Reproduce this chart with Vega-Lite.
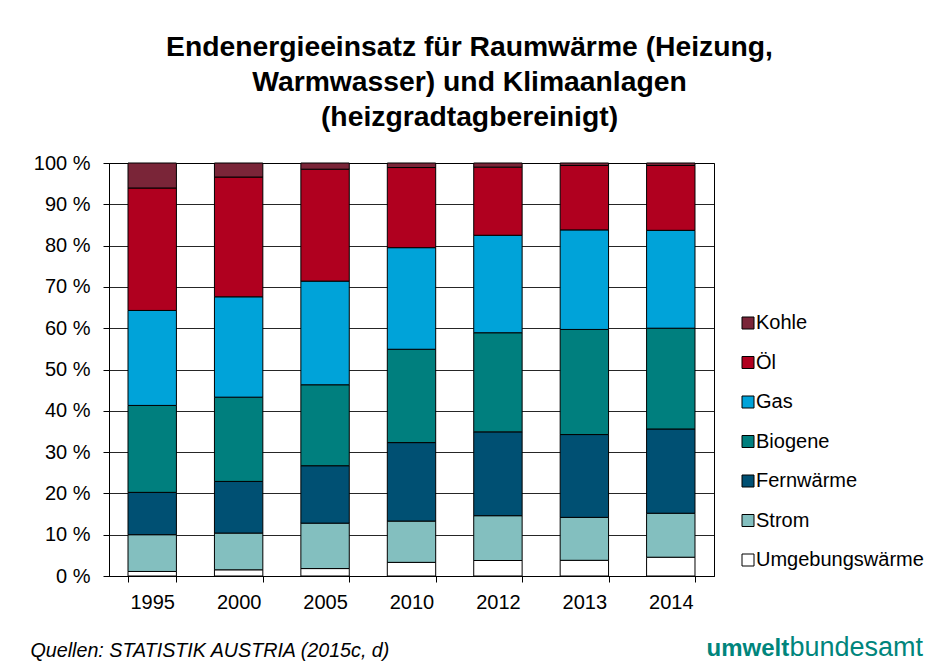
{
  "$schema": "https://vega.github.io/schema/vega-lite/v6.json",
  "width": 605,
  "height": 413,
  "autosize": {"type": "none"},
  "padding": {"left": 109, "top": 163, "right": 227, "bottom": 90},
  "background": "white",
  "title": {
    "text": ["Endenergieeinsatz für Raumwärme (Heizung,", "Warmwasser) und Klimaanlagen", "(heizgradtagbereinigt)"],
    "font": "Liberation Sans",
    "fontSize": 28.3,
    "fontWeight": "bold",
    "lineHeight": 35,
    "anchor": "middle",
    "dx": 58,
    "offset": 21,
    "color": "#000000"
  },
  "data": {
    "values": [
      {"jahr": "1995", "traeger": "Umgebungswärme", "anteil": 1.1},
      {"jahr": "1995", "traeger": "Strom", "anteil": 8.9},
      {"jahr": "1995", "traeger": "Fernwärme", "anteil": 10.25},
      {"jahr": "1995", "traeger": "Biogene", "anteil": 21.05},
      {"jahr": "1995", "traeger": "Gas", "anteil": 23.0},
      {"jahr": "1995", "traeger": "Öl", "anteil": 29.65},
      {"jahr": "1995", "traeger": "Kohle", "anteil": 6.05},
      {"jahr": "2000", "traeger": "Umgebungswärme", "anteil": 1.5},
      {"jahr": "2000", "traeger": "Strom", "anteil": 8.9},
      {"jahr": "2000", "traeger": "Fernwärme", "anteil": 12.5},
      {"jahr": "2000", "traeger": "Biogene", "anteil": 20.4},
      {"jahr": "2000", "traeger": "Gas", "anteil": 24.3},
      {"jahr": "2000", "traeger": "Öl", "anteil": 29.0},
      {"jahr": "2000", "traeger": "Kohle", "anteil": 3.4},
      {"jahr": "2005", "traeger": "Umgebungswärme", "anteil": 1.8},
      {"jahr": "2005", "traeger": "Strom", "anteil": 11.0},
      {"jahr": "2005", "traeger": "Fernwärme", "anteil": 13.9},
      {"jahr": "2005", "traeger": "Biogene", "anteil": 19.6},
      {"jahr": "2005", "traeger": "Gas", "anteil": 25.1},
      {"jahr": "2005", "traeger": "Öl", "anteil": 27.1},
      {"jahr": "2005", "traeger": "Kohle", "anteil": 1.5},
      {"jahr": "2010", "traeger": "Umgebungswärme", "anteil": 3.3},
      {"jahr": "2010", "traeger": "Strom", "anteil": 10.0},
      {"jahr": "2010", "traeger": "Fernwärme", "anteil": 19.0},
      {"jahr": "2010", "traeger": "Biogene", "anteil": 22.6},
      {"jahr": "2010", "traeger": "Gas", "anteil": 24.6},
      {"jahr": "2010", "traeger": "Öl", "anteil": 19.4},
      {"jahr": "2010", "traeger": "Kohle", "anteil": 1.1},
      {"jahr": "2012", "traeger": "Umgebungswärme", "anteil": 3.75},
      {"jahr": "2012", "traeger": "Strom", "anteil": 10.85},
      {"jahr": "2012", "traeger": "Fernwärme", "anteil": 20.3},
      {"jahr": "2012", "traeger": "Biogene", "anteil": 24.0},
      {"jahr": "2012", "traeger": "Gas", "anteil": 23.6},
      {"jahr": "2012", "traeger": "Öl", "anteil": 16.5},
      {"jahr": "2012", "traeger": "Kohle", "anteil": 1.0},
      {"jahr": "2013", "traeger": "Umgebungswärme", "anteil": 3.8},
      {"jahr": "2013", "traeger": "Strom", "anteil": 10.4},
      {"jahr": "2013", "traeger": "Fernwärme", "anteil": 20.05},
      {"jahr": "2013", "traeger": "Biogene", "anteil": 25.45},
      {"jahr": "2013", "traeger": "Gas", "anteil": 24.1},
      {"jahr": "2013", "traeger": "Öl", "anteil": 15.6},
      {"jahr": "2013", "traeger": "Kohle", "anteil": 0.6},
      {"jahr": "2014", "traeger": "Umgebungswärme", "anteil": 4.55},
      {"jahr": "2014", "traeger": "Strom", "anteil": 10.65},
      {"jahr": "2014", "traeger": "Fernwärme", "anteil": 20.4},
      {"jahr": "2014", "traeger": "Biogene", "anteil": 24.4},
      {"jahr": "2014", "traeger": "Gas", "anteil": 23.7},
      {"jahr": "2014", "traeger": "Öl", "anteil": 15.7},
      {"jahr": "2014", "traeger": "Kohle", "anteil": 0.6}
    ]
  },
  "transform": [
    {"calculate": "indexof(['Kohle','Öl','Gas','Biogene','Fernwärme','Strom','Umgebungswärme'], datum.traeger)", "as": "ord"}
  ],
  "layer": [
    {
      "mark": {"type": "bar", "stroke": "#000000", "strokeWidth": 1},
      "encoding": {
        "x": {
          "field": "jahr",
          "type": "nominal",
          "sort": null,
          "scale": {"paddingInner": 0.44, "paddingOuter": 0.22},
          "axis": {
            "title": "Quellen: STATISTIK AUSTRIA (2015c, d)",
            "titleFont": "Liberation Sans",
            "titleFontSize": 19.7,
            "titleFontStyle": "italic",
            "titleFontWeight": "normal",
            "titleColor": "#000000",
            "titleX": -79,
            "titleY": 80,
            "titleAlign": "left",
            "titleBaseline": "alphabetic",
            "labelAngle": 0,
            "labelFont": "Liberation Sans",
            "labelFontSize": 20,
            "labelColor": "#000000",
            "labelPadding": 10,
            "tickBand": "extent",
            "tickColor": "#000000",
            "tickSize": 6,
            "domainColor": "#000000",
            "grid": false
          }
        },
        "y": {
          "field": "anteil",
          "type": "quantitative",
          "stack": "normalize",
          "scale": {"domain": [0, 1]},
          "axis": {
            "values": [0, 0.1, 0.2, 0.3, 0.4, 0.5, 0.6, 0.7, 0.8, 0.9, 1],
            "labelExpr": "round(datum.value * 100) + ' %'",
            "labelFont": "Liberation Sans",
            "labelFontSize": 20,
            "labelColor": "#000000",
            "labelPadding": 13,
            "tickSize": 6,
            "tickColor": "#000000",
            "domainColor": "#000000",
            "grid": true,
            "gridColor": "#000000",
            "gridOpacity": 0.85,
            "title": "umwelt",
            "titleAngle": 0,
            "titleX": 597,
            "titleY": 492,
            "titleAlign": "left",
            "titleBaseline": "alphabetic",
            "titleFont": "Liberation Sans",
            "titleFontSize": 24,
            "titleFontWeight": "bold",
            "titleColor": "#00857C"
          }
        },
        "color": {
          "field": "traeger",
          "type": "nominal",
          "scale": {
            "domain": ["Kohle", "Öl", "Gas", "Biogene", "Fernwärme", "Strom", "Umgebungswärme"],
            "range": ["#7A2538", "#B0001F", "#00A3D9", "#007F7E", "#005073", "#83BFBF", "#FFFFFF"]
          },
          "legend": {
            "orient": "none",
            "legendX": 629,
            "legendY": 150,
            "title": null,
            "symbolType": "square",
            "symbolSize": 144,
            "symbolStrokeColor": "#000000",
            "symbolStrokeWidth": 1,
            "symbolOpacity": 1,
            "labelFont": "Liberation Sans",
            "labelFontSize": 20,
            "labelColor": "#000000",
            "labelLimit": 400,
            "labelOffset": -2,
            "rowPadding": 19.5
          }
        },
        "order": {"field": "ord", "sort": "descending"}
      }
    },
    {
      "mark": {"type": "rule", "opacity": 0},
      "encoding": {
        "y": {
          "field": "anteil",
          "type": "quantitative",
          "axis": {
            "orient": "right",
            "labels": false,
            "ticks": false,
            "domain": false,
            "grid": false,
            "title": "bundesamt",
            "titleAngle": 0,
            "titleX": 75,
            "titleY": 492,
            "titleAlign": "left",
            "titleBaseline": "alphabetic",
            "titleFont": "Liberation Sans",
            "titleFontSize": 27,
            "titleFontWeight": "normal",
            "titleColor": "#00857C"
          }
        }
      }
    }
  ],
  "resolve": {"scale": {"y": "independent"}},
  "config": {
    "view": {"stroke": "#000000", "strokeWidth": 1}
  }
}
